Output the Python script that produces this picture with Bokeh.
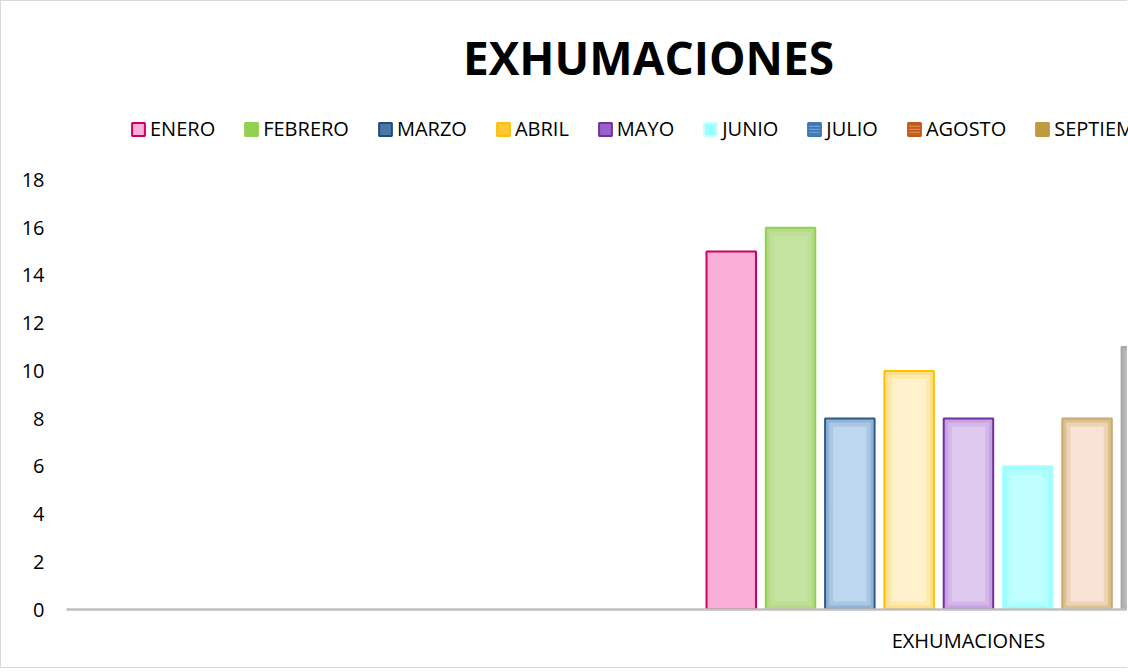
from bokeh.plotting import figure
from bokeh.models import Range1d, FixedTicker, Legend, LegendItem, Label, ColumnDataSource
from bokeh.embed import file_html
from bokeh.resources import INLINE

# ---- data ----
titulo = "EXHUMACIONES"
categorias = ["", "EXHUMACIONES"]
meses = ["ENERO", "FEBRERO", "MARZO", "ABRIL", "MAYO", "JUNIO", "JULIO", "AGOSTO", "SEPTIEMBRE"]
valores = [15, 16, 8, 10, 8, 6, 8, 11]
y_ticks = [0, 2, 4, 6, 8, 10, 12, 14, 16, 18]

# ---- styles ----
bar_center = ["#fbafd6", "#c6e4a1", "#bdd7ee", "#fff2cc", "#e0c9ef", "#c0ffff", "#f9e2d6", "#c9c9c9"]
bar_edge = ["#fbafd6", "#b4da88", "#90b2d6", "#ffe08a", "#c6a2e0", "#9ffcfc", "#dcc08e", "#b4b4b4"]
bar_line = ["#cc0066", "#92d050", "#2f5a86", "#ffc000", "#7030a0", "#a8ffff", "#c9a96e", "#a6a6a6"]
leg_fill = ["#fbafd6", "#92d050", "#4a77a6", "#ffc734", "#9a62c8", "#99ffff", "#3d78b3", "#c05a1c", "#bf9b40"]
leg_line = ["#cc0066", "#92d050", "#1f4e79", "#ffc000", "#7030a0", "#ccffff", "#3d78b3", "#c05a1c", "#bf9b40"]
leg_hatch = [None, None, None, None, None, None, "-", "-", None]
leg_hatch_col = [None, None, None, None, None, None, "#6fa0d4", "#e08a50", None]

FONT = "Open Sans"
W, H = 1127, 668
FRAME_LEFT = 65          # canvas px
FRAME_BOTTOM = 608       # canvas px
CAT_PX = 601.3           # px per category
UNIT_PX = 23.86          # px per y unit
SLOT = 59.3 / CAT_PX
BAR_W = 49.5 / CAT_PX
E0 = 1                   # element border offset

x_end = (W - FRAME_LEFT) / CAT_PX
y_end = FRAME_BOTTOM / UNIT_PX


def dx(px):  # element px -> data x
    return (px - E0 - FRAME_LEFT) / CAT_PX


def dy(py):  # element px -> data y
    return (FRAME_BOTTOM + E0 - py) / UNIT_PX


def mix(a, b, t):
    ca = [int(a[i:i + 2], 16) for i in (1, 3, 5)]
    cb = [int(b[i:i + 2], 16) for i in (1, 3, 5)]
    return "#" + "".join("%02x" % round(x + (y - x) * t) for x, y in zip(ca, cb))


p = figure(width=W, height=H, output_backend="svg", toolbar_location=None, title=None,
           x_range=Range1d(0, x_end), y_range=Range1d(0, y_end),
           min_border_left=FRAME_LEFT, min_border_right=0, min_border_top=0,
           min_border_bottom=H - FRAME_BOTTOM)
p.styles = {"border-left": "1px solid #d9d9d9", "border-top": "1px solid #d9d9d9",
            "border-bottom": "1px solid #d9d9d9"}
p.outline_line_color = None
p.grid.visible = False
p.background_fill_color = "white"
p.border_fill_color = "white"

# bars: one category (index 1), dodged by series
n = len(meses)
cat_center = categorias.index("EXHUMACIONES") + 0.5
xs = [cat_center + (i - (n - 1) / 2) * SLOT for i in range(n)]
k = len(valores)
src = ColumnDataSource(dict(x=xs[:k], top=valores, edge=bar_edge, line=bar_line,
                            mid=[mix(e, c, 0.55) for e, c in zip(bar_edge, bar_center)],
                            center=bar_center, mes=meses[:k]))
# soft inner glow (Excel-style gradient), drawn from the same values, inset by a few px
for inset, col in ((0, "edge"), (4, "mid"), (8, "center")):
    name = "top_%d" % inset
    src.data[name] = [v - inset / UNIT_PX for v in valores]
    p.vbar(x="x", top=name, width=BAR_W - 2 * inset / CAT_PX, bottom=inset / UNIT_PX,
           source=src, fill_color=col, line_color=None)
# outline on top
p.vbar(x="x", top="top", width=BAR_W, bottom=0, source=src,
       fill_color=None, line_color="line", line_width=2)

# legend glyphs (value not shown -> NaN, nothing drawn in the plot)
items = []
for i, m in enumerate(meses):
    kw = {}
    if leg_hatch[i]:
        kw = dict(hatch_pattern=leg_hatch[i], hatch_color=leg_hatch_col[i], hatch_weight=1.5, hatch_scale=3)
    r = p.vbar(x=[xs[i]], top=[float("nan")], width=BAR_W, fill_color=leg_fill[i],
               line_color=leg_line[i], line_width=2, **kw)
    items.append(LegendItem(label=m, renderers=[r]))

legend = Legend(items=items, orientation="horizontal", location=(130 - 66, 609 - 142),
                glyph_width=16, glyph_height=16, label_standoff=4, spacing=28,
                padding=0, margin=0, border_line_color=None, background_fill_alpha=0,
                label_text_font=FONT, label_text_font_size="20px", label_text_color="#000000")
p.add_layout(legend)

# title
p.add_layout(Label(x=dx(648), y=dy(56), text=titulo,
                   text_align="center", text_baseline="middle",
                   text_font=FONT, text_font_size="46px", text_font_style="bold",
                   text_color="#000000"))

# axes
xa = p.xaxis[0]
xa.ticker = FixedTicker(ticks=[cat_center])
xa.major_label_overrides = {cat_center: categorias[1]}
xa.axis_line_color = "#bfbfbf"
xa.axis_line_width = 2.5
xa.major_tick_line_color = None
xa.minor_tick_line_color = None
xa.major_tick_out = 0
xa.major_tick_in = 0
xa.minor_tick_out = 0
xa.major_label_standoff = 17
xa.major_label_text_font = FONT
xa.major_label_text_font_size = "20px"
xa.major_label_text_color = "#000000"

ya = p.yaxis[0]
ya.ticker = FixedTicker(ticks=y_ticks)
ya.axis_line_color = None
ya.major_tick_line_color = None
ya.minor_tick_line_color = None
ya.major_tick_out = 0
ya.major_tick_in = 0
ya.minor_tick_out = 0
ya.major_label_standoff = 22
ya.major_label_text_font = FONT
ya.major_label_text_font_size = "20px"
ya.major_label_text_color = "#000000"

open("out.html", "w").write(file_html(p, INLINE))
